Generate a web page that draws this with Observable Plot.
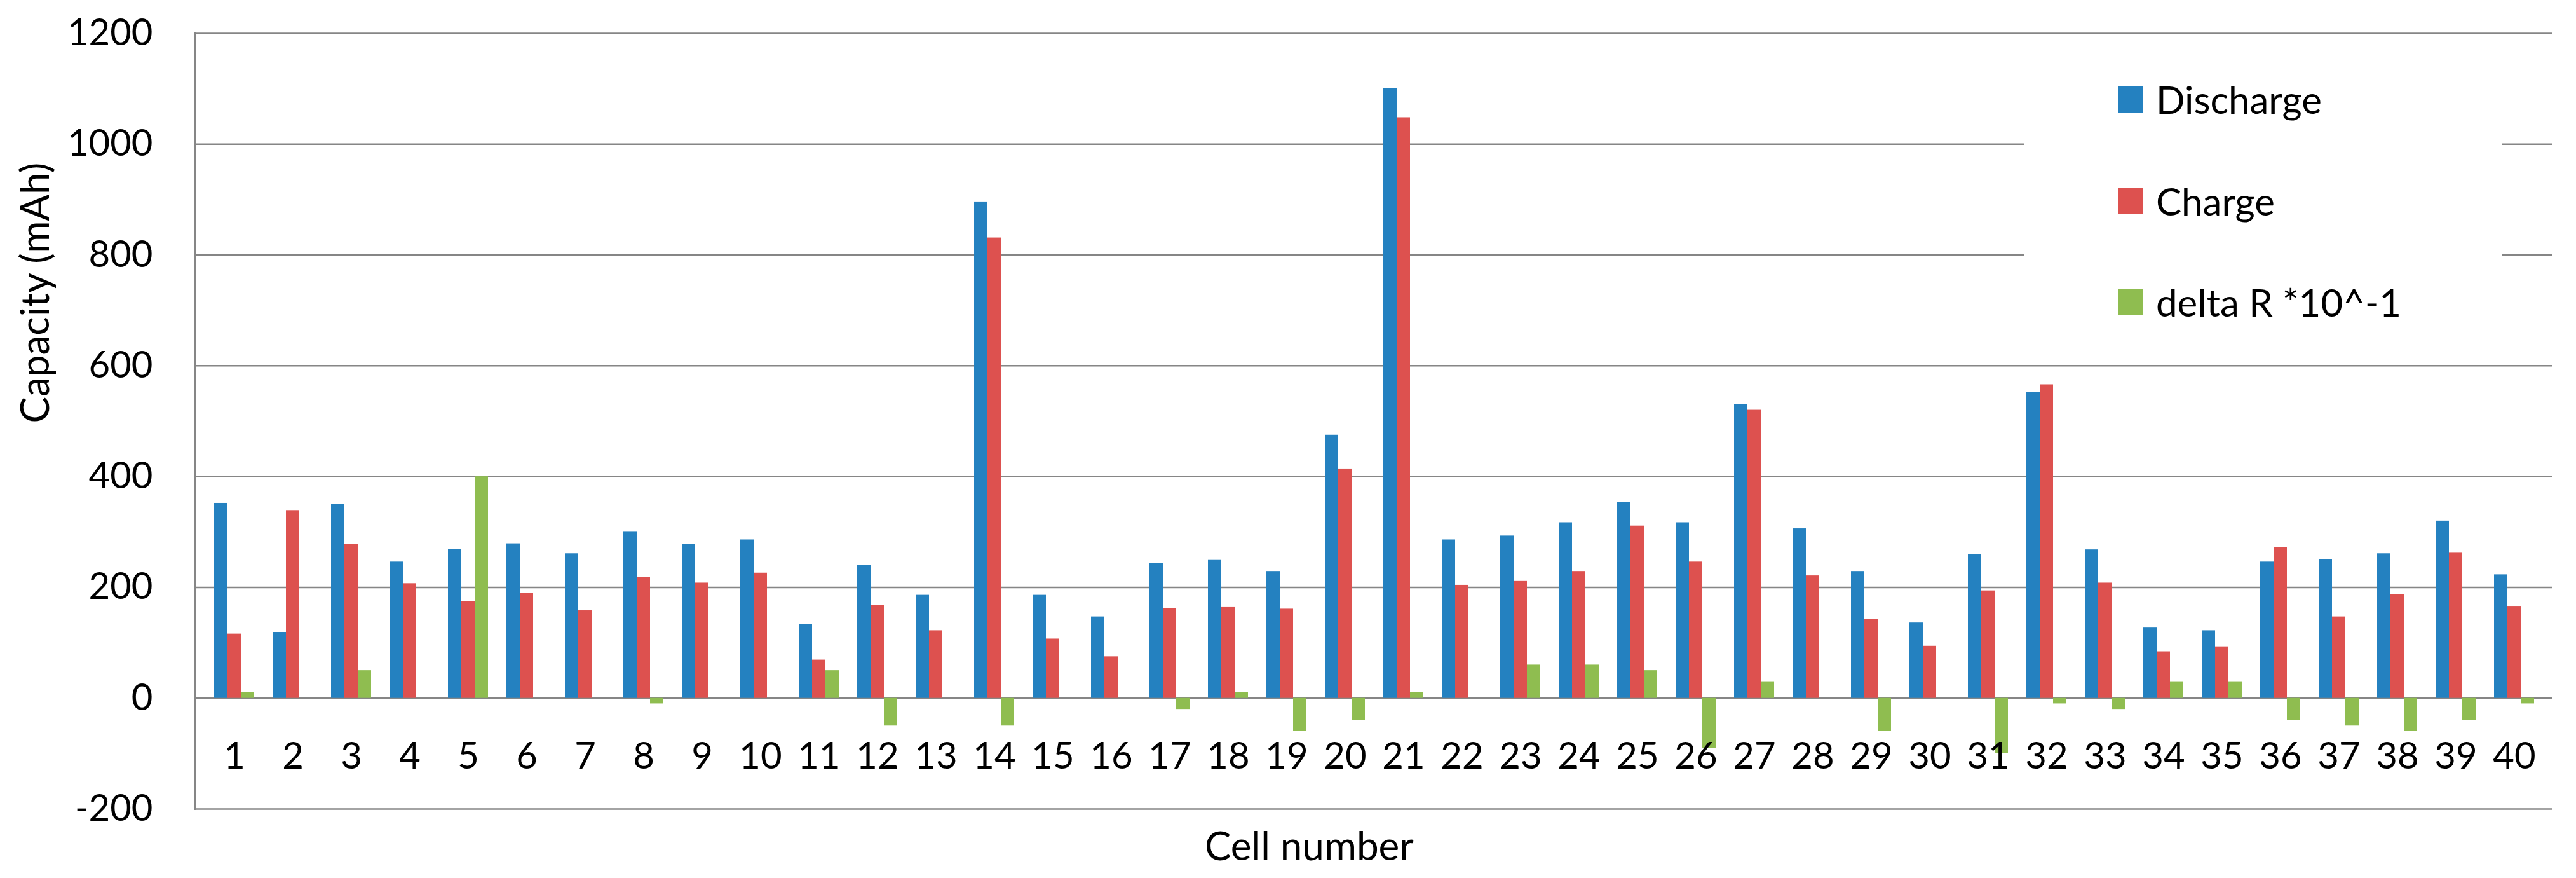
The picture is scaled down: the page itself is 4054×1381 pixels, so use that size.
<!DOCTYPE html>
<html>
<head>
<meta charset="utf-8">
<script src="https://cdn.jsdelivr.net/npm/d3@7"></script>
<script src="https://cdn.jsdelivr.net/npm/@observablehq/plot@0.6"></script>
<style>
  html, body { margin: 0; padding: 0; background: #fff; }
  #wrap { position: relative; width: 4054px; height: 1381px; font-family: Lato, sans-serif; }
  #legend { position: absolute; left: 3185px; top: 62px; width: 752px; height: 505px; background: #fff; }
  .item { position: absolute; left: 148px; height: 60px; display: flex; align-items: center; font-size: 60px; color: #000; white-space: nowrap; }
  .sw { width: 40px; height: 42px; margin-right: 20px; }
</style>
</head>
<body>
<div id="wrap"></div>
<script>
const cells = ["1","2","3","4","5","6","7","8","9","10","11","12","13","14","15","16","17","18","19","20",
               "21","22","23","24","25","26","27","28","29","30","31","32","33","34","35","36","37","38","39","40"];
const discharge = [352,119,350,246,269,279,261,301,278,286,133,240,186,896,186,147,243,249,229,475,
                   1101,286,293,317,354,317,530,306,229,136,259,552,268,128,122,246,250,261,320,223];
const charge = [116,339,278,207,175,190,158,218,208,226,69,168,122,831,107,75,162,165,161,414,
                1048,204,211,229,311,246,520,221,142,94,194,566,208,84,93,272,147,187,262,166];
const deltaR = [10,0,50,0,400,0,0,-10,0,0,50,-50,0,-50,0,0,-20,10,-60,-40,
                10,0,60,60,50,-90,30,0,-60,0,-100,-10,-20,30,30,-40,-50,-60,-40,-10];
const yTicks = [-200,0,200,400,600,800,1000,1200];
const seriesNames = ["Discharge","Charge","delta R *10^-1"];
const colors = ["#2481c0","#dd514f","#8fbd50"];

const data = cells.map((c, i) => ({cell: c, discharge: discharge[i], charge: charge[i], deltaR: deltaR[i]}));

const chart = Plot.plot({
  width: 4054,
  height: 1381,
  marginLeft: 307,
  marginRight: 37,
  marginTop: 52,
  marginBottom: 109,
  style: {fontFamily: "Lato, sans-serif", fontSize: "58px", color: "#000", background: "#fff", overflow: "visible"},
  x: {domain: cells, paddingInner: 0.7736, paddingOuter: 0.3868, label: null},
  y: {domain: [-200, 1200], label: null},
  marks: [
    Plot.gridY(yTicks, {stroke: "#868686", strokeOpacity: 1, strokeWidth: 2.5}),
    Plot.barY(data, {x: "cell", y: "discharge", fill: colors[0], dx: -21}),
    Plot.barY(data, {x: "cell", y: "charge", fill: colors[1]}),
    Plot.barY(data, {x: "cell", y: "deltaR", fill: colors[2], dx: 21}),
    Plot.frame({anchor: "left", stroke: "#868686", strokeWidth: 3}),
    Plot.axisY(yTicks, {tickSize: 0, tickPadding: 67, fontSize: 58, label: null, tickFormat: d => String(d)}),
    Plot.axisX({tickSize: 0, tickPadding: -105, fontSize: 58, label: null}),
    Plot.text(["Cell number"], {frameAnchor: "bottom", dx: -102, dy: 80, fontSize: 62, text: d => d}),
    Plot.text(["Capacity (mAh)"], {frameAnchor: "left", rotate: -90, dx: -250, dy: 3, fontSize: 62, text: d => d})
  ]
});

const wrap = document.getElementById("wrap");
wrap.appendChild(chart);

const legend = document.createElement("div");
legend.id = "legend";
const rowTops = [64, 224, 383];
seriesNames.forEach((name, i) => {
  const it = document.createElement("div");
  it.className = "item";
  it.style.top = rowTops[i] + "px";
  const sw = document.createElement("div");
  sw.className = "sw";
  sw.style.background = colors[i];
  const tx = document.createElement("span");
  tx.textContent = name;
  it.appendChild(sw);
  it.appendChild(tx);
  legend.appendChild(it);
});
wrap.appendChild(legend);
</script>
</body>
</html>
